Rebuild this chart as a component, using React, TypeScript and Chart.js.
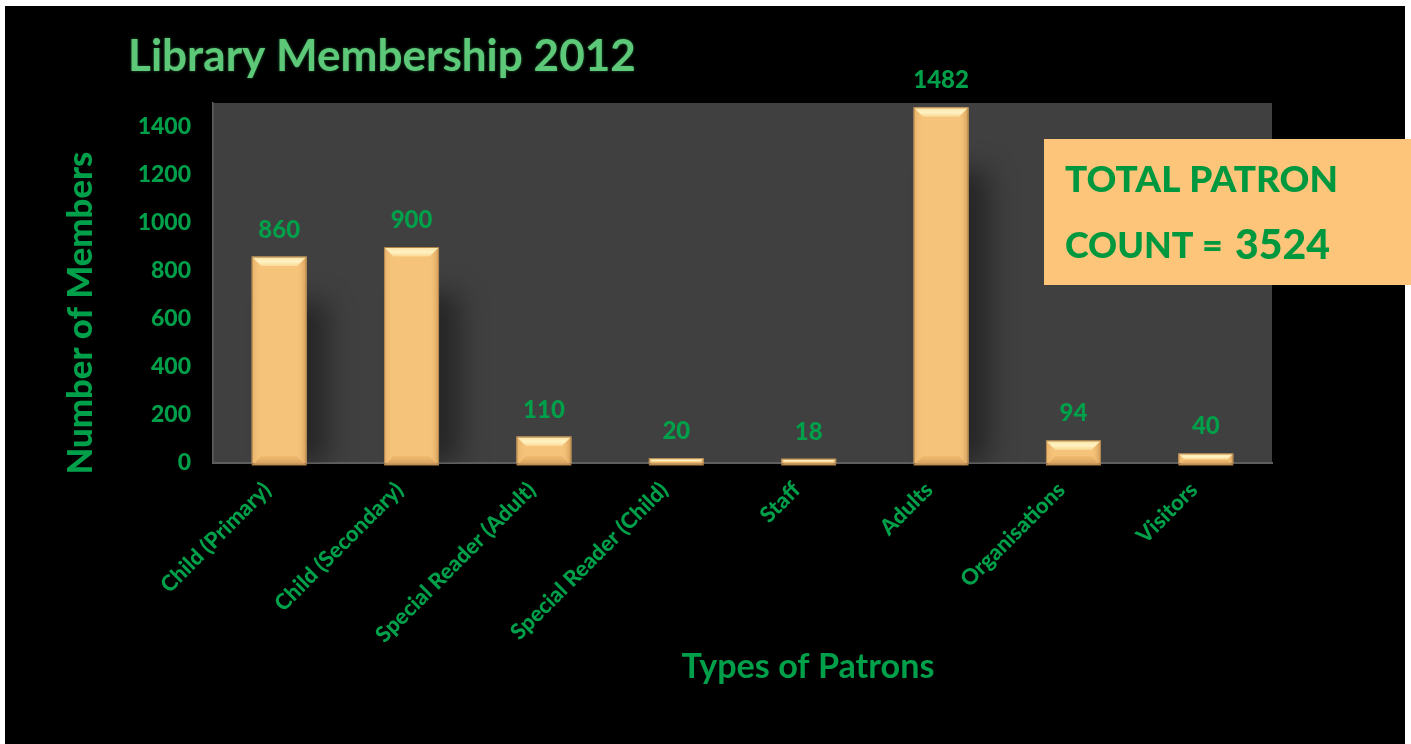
import React, { useEffect, useRef } from "react";
import { Chart, registerables } from "chart.js";

Chart.register(...registerables);

// ---- data ----
const categories = [
  "Child (Primary)",
  "Child (Secondary)",
  "Special Reader (Adult)",
  "Special Reader (Child)",
  "Staff",
  "Adults",
  "Organisations",
  "Visitors",
];
const members = [860, 900, 110, 20, 18, 1482, 94, 40];
const yTickValues = [0, 200, 400, 600, 800, 1000, 1200, 1400];
const yMax = 1500;
const chartTitle = "Library Membership 2012";
const xAxisTitle = "Types of Patrons";
const yAxisTitle = "Number of Members";
const totalLine1 = "TOTAL PATRON";
const totalLine2 = "COUNT =";

// ---- styles ----
const FONT = "Lato, 'Open Sans', 'Liberation Sans', sans-serif";
const GREEN = "#00A04A";
const TITLE_GREEN = "#5CC878";
const BOX_GREEN = "#00983F";
const BAR_FILL = "#F6C37A";
const BAR_BORDER = "#B0854C";
const PLOT_BG = "#404040";

function fitSize(ctx: CanvasRenderingContext2D, text: string, width: number, weight: string) {
  ctx.font = `${weight} 100px ${FONT}`;
  const w = ctx.measureText(text).width;
  return (100 * width) / w;
}

const backgroundPlugin = {
  id: "bgPlugin",
  beforeDraw(chart: any) {
    const { ctx, chartArea } = chart;
    ctx.save();
    ctx.fillStyle = "#ffffff";
    ctx.fillRect(0, 0, chart.width, chart.height);
    ctx.fillStyle = "#000000";
    ctx.fillRect(5, 6, 1400, chart.height - 6);
    ctx.fillStyle = PLOT_BG;
    ctx.fillRect(chartArea.left, chartArea.top, chartArea.right - chartArea.left, chartArea.bottom - chartArea.top);
    ctx.restore();
  },
};

const shadowPlugin = {
  id: "shadowPlugin",
  beforeDatasetsDraw(chart: any) {
    const { ctx, chartArea } = chart;
    const meta = chart.getDatasetMeta(0);
    ctx.save();
    ctx.beginPath();
    ctx.rect(chartArea.left, chartArea.top, chartArea.right - chartArea.left, chartArea.bottom - chartArea.top);
    ctx.clip();
    ctx.filter = "blur(14px)";
    ctx.fillStyle = "rgba(0,0,0,0.42)";
    meta.data.forEach((el: any) => {
      const { x, y, base, width } = el.getProps(["x", "y", "base", "width"], true);
      const h = base - y;
      if (h < 40) return;
      const top = y + Math.min(60, h * 0.12) + 20;
      ctx.fillRect(x - width / 2 + 26, top, width * 0.9, base - top);
    });
    ctx.restore();
  },
};

const bevelPlugin = {
  id: "bevelPlugin",
  afterDatasetsDraw(chart: any) {
    const { ctx } = chart;
    const meta = chart.getDatasetMeta(0);
    ctx.save();
    meta.data.forEach((el: any, i: number) => {
      const { x, y, base, width } = el.getProps(["x", "y", "base", "width"], true);
      const l = x - width / 2 + 0.5;
      const r = x + width / 2 - 0.5;
      const t = y + 0.5;
      const b = base + 2;
      const h = b - t;
      const bv = Math.min(9, h / 2);
      // left side
      let g = ctx.createLinearGradient(l, 0, l + bv, 0);
      g.addColorStop(0, "rgba(214,160,90,0.45)");
      g.addColorStop(1, "rgba(246,195,122,0)");
      ctx.fillStyle = g;
      ctx.beginPath();
      ctx.moveTo(l, t);
      ctx.lineTo(l + bv, t + bv);
      ctx.lineTo(l + bv, b - bv);
      ctx.lineTo(l, b);
      ctx.closePath();
      ctx.fill();
      // right side
      g = ctx.createLinearGradient(r, 0, r - bv, 0);
      g.addColorStop(0, "rgba(200,145,80,0.75)");
      g.addColorStop(1, "rgba(246,195,122,0)");
      ctx.fillStyle = g;
      ctx.beginPath();
      ctx.moveTo(r, t);
      ctx.lineTo(r - bv, t + bv);
      ctx.lineTo(r - bv, b - bv);
      ctx.lineTo(r, b);
      ctx.closePath();
      ctx.fill();
      // top bevel
      g = ctx.createLinearGradient(0, t, 0, t + bv);
      g.addColorStop(0, "#FDE3A2");
      g.addColorStop(0.5, "#FFF3C4");
      g.addColorStop(1, "#FAD894");
      ctx.fillStyle = g;
      ctx.beginPath();
      ctx.moveTo(l, t);
      ctx.lineTo(r, t);
      ctx.lineTo(r - bv, t + bv);
      ctx.lineTo(l + bv, t + bv);
      ctx.closePath();
      ctx.fill();
      // bottom bevel
      g = ctx.createLinearGradient(0, b - bv, 0, b);
      g.addColorStop(0, "rgba(237,181,108,0.6)");
      g.addColorStop(1, "#CF9A5A");
      ctx.fillStyle = g;
      ctx.beginPath();
      ctx.moveTo(l, b);
      ctx.lineTo(r, b);
      ctx.lineTo(r - bv, b - bv);
      ctx.lineTo(l + bv, b - bv);
      ctx.closePath();
      ctx.fill();
      ctx.strokeStyle = BAR_BORDER;
      ctx.lineWidth = 1;
      ctx.strokeRect(l, t, r - l, b - t);

      // data label
      ctx.fillStyle = GREEN;
      ctx.font = `900 24px ${FONT}`;
      ctx.textAlign = "center";
      ctx.textBaseline = "alphabetic";
      ctx.fillText(String(members[i]), x, y - 19);
    });
    ctx.restore();
  },
};

const annotationPlugin = {
  id: "annotationPlugin",
  afterDraw(chart: any) {
    const { ctx } = chart;
    ctx.save();
    // chart title
    let s = fitSize(ctx, chartTitle, 508, "bold");
    ctx.font = `bold ${s}px ${FONT}`;
    ctx.fillStyle = TITLE_GREEN;
    ctx.textAlign = "left";
    ctx.textBaseline = "alphabetic";
    ctx.shadowColor = "rgba(60,160,90,0.6)";
    ctx.shadowBlur = 3;
    ctx.fillText(chartTitle, 128, 71);
    ctx.shadowBlur = 0;
    ctx.shadowColor = "transparent";

    // x axis title
    s = fitSize(ctx, xAxisTitle, 253, "bold");
    ctx.font = `bold ${s}px ${FONT}`;
    ctx.fillStyle = GREEN;
    ctx.textAlign = "center";
    ctx.fillText(xAxisTitle, 808, 678);

    // y axis title
    s = fitSize(ctx, yAxisTitle, 323, "900");
    ctx.save();
    ctx.translate(92, 313);
    ctx.rotate(-Math.PI / 2);
    ctx.font = `900 ${s}px ${FONT}`;
    ctx.textAlign = "center";
    ctx.fillText(yAxisTitle, 0, 0);
    ctx.restore();

    // total box
    const total = members.reduce((a, b) => a + b, 0);
    ctx.fillStyle = "#FCC57A";
    ctx.fillRect(1044, 139, 367, 146);
    ctx.fillStyle = BOX_GREEN;
    ctx.textAlign = "left";
    s = fitSize(ctx, totalLine1, 273, "900");
    ctx.font = `900 ${s}px ${FONT}`;
    ctx.fillText(totalLine1, 1065, 192);
    s = fitSize(ctx, totalLine2, 158, "900");
    ctx.font = `900 ${s}px ${FONT}`;
    ctx.fillText(totalLine2, 1065, 258);
    s = fitSize(ctx, String(total), 95, "900");
    ctx.font = `900 ${s}px ${FONT}`;
    ctx.fillText(String(total), 1235, 259);
    ctx.restore();
  },
};

export default function App() {
  const canvasRef = useRef<HTMLCanvasElement | null>(null);

  useEffect(() => {
    if (!canvasRef.current) return;
    const chart = new Chart(canvasRef.current, {
      type: "bar",
      data: {
        labels: categories,
        datasets: [
          {
            data: members,
            backgroundColor: BAR_FILL,
            borderColor: BAR_BORDER,
            borderWidth: 0,
            categoryPercentage: 1,
            barPercentage: 0.415,
          },
        ],
      },
      options: {
        animation: false,
        responsive: true,
        maintainAspectRatio: false,
        devicePixelRatio: 1,
        layout: { padding: { top: 103, right: 139, left: 0, bottom: 0 } },
        plugins: {
          legend: { display: false },
          title: { display: false },
          tooltip: { enabled: false },
        },
        scales: {
          x: {
            grid: { display: false, drawTicks: false },
            border: { display: true, color: "#5E5E5E", width: 2 },
            ticks: {
              color: GREEN,
              font: { family: FONT, size: 22, weight: 900 },
              maxRotation: 45,
              minRotation: 45,
              autoSkip: false,
              padding: 14,
              labelOffset: -12,
            },
            afterFit: (scale: any) => {
              scale.height = 281;
            },
          },
          y: {
            min: 0,
            max: yMax,
            grid: { display: false, drawTicks: false },
            border: { display: true, color: "#5E5E5E", width: 1.5 },
            ticks: {
              color: GREEN,
              font: { family: FONT, size: 23, weight: 900 },
              padding: 22,
              stepSize: 200,
              callback: (v: any) => String(v),
            },
            afterBuildTicks: (scale: any) => {
              scale.ticks = yTickValues.map((v) => ({ value: v }));
            },
            afterFit: (scale: any) => {
              scale.width = 213;
            },
          },
        },
      },
      plugins: [backgroundPlugin, shadowPlugin, bevelPlugin, annotationPlugin],
    } as any);
    return () => chart.destroy();
  }, []);

  return (
    <div style={{ position: "absolute", left: 0, top: 0, width: 1411, height: 744, background: "#fff" }}>
      <canvas ref={canvasRef} />
    </div>
  );
}
